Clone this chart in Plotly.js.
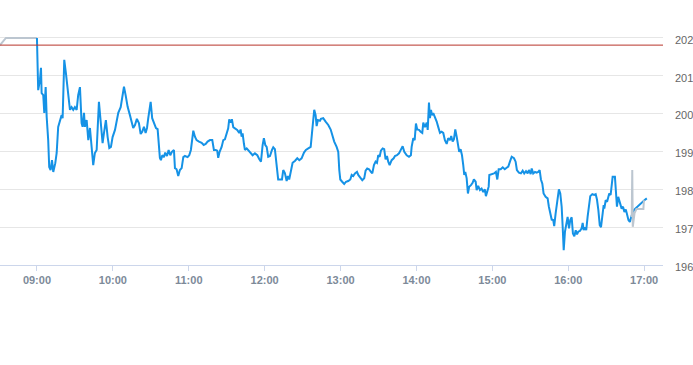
<!DOCTYPE html>
<html>
<head>
<meta charset="utf-8">
<script src="https://cdn.plot.ly/plotly-3.0.1.min.js"></script>
<style>html,body{margin:0;padding:0;background:#fff;}#chart{width:693px;height:365px;}</style>
</head>
<body>
<div id="chart"></div>
<script>
// Minutes after 09:00 for each regular-session point
const sessionMinutes = [0,0.2,1.0,2.4,3.2,3.7,5.0,5.8,6.9,7.7,8.9,9.7,10.8,11.9,12.9,14.5,15.6,16.8,18.2,19.5,20.3,21.6,22.9,24.7,26.1,27.4,28.7,30.0,31.4,32.6,34.0,35.3,36.1,37.2,37.9,39.3,40.6,41.9,43.2,44.5,45.8,47.2,49.0,50.6,51.9,53.0,54.5,55.9,57.2,58.5,59.8,61.7,63.0,64.3,66.2,67.7,68.8,70.1,
71.7,73.5,74.9,76.1,77.5,79.0,80.6,82.0,83.2,84.6,85.9,87.0,88.0,89.1,89.9,91.1,92.7,94.1,95.4,96.4,97.2,98.0,99.1,100.4,101.4,102.8,104.1,105.4,106.7,108.3,109.1,110.4,111.7,113.0,114.4,115.7,117.0,119.1,120.4,121.7,123.6,124.9,126.2,128.1,130.2,131.8,133.4,134.9,136.8,138.6,139.9,141.3,142.5,143.3,144.4,146.0,147.3,148.6,
150.0,151.2,152.0,153.1,154.1,155.2,156.5,158.3,159.9,161.0,161.8,162.6,163.6,164.4,165.8,167.4,168.9,170.5,172.3,174.2,175.7,177.1,178.4,179.4,180.5,181.6,182.8,184.2,185.8,186.8,188.1,189.5,190.7,192.1,193.7,194.7,196.0,197.4,198.4,199.4,200.6,202.1,203.9,205.8,207.4,209.2,211.1,212.6,214.5,216.4,217.4,218.4,219.2,220.3,221.1,222.1,223.7,
224.5,226.3,228.2,230.3,232.2,233.4,235.0,236.9,238.2,239.0,239.8,241.3,242.9,244.3,246.1,247.7,248.8,250.0,251.4,253.0,254.0,255.6,257.2,258.7,259.8,261.1,262.5,264.0,265.1,266.4,267.7,268.8,269.8,270.9,271.9,273.3,274.5,275.6,276.7,277.7,278.8,280.4,282.0,283.0,284.6,286.2,287.7,289.1,290.4,292.3,294.1,295.6,
296.2,297.5,298.6,299.6,300.6,302.0,303.3,304.6,305.4,306.7,308.1,308.9,309.9,310.7,311.5,312.3,313.3,314.6,316.0,317.2,318.6,319.9,321.2,322.5,323.9,325.1,326.5,327.5,328.6,329.6,330.7,331.8,332.8,333.8,334.9,336.0,337.0,337.8,338.6,339.7,340.7,341.7,343.1,344.4,345.4,346.8,347.6,348.8,350.2,351.5,352.8,354.1,354.9,356.0,357.1,357.6,359.5,361.3,362.8,363.9,365.0,366.6,368.2,369.8,
371.3,372.6,373.9,375.3,377.1,378.4,379.4,381.0,382.6,384.0,385.2,386.6,387.9,388.9,390.3,391.1,392.3,393.7,395.0,396.3,397.4,398.4,399.5,400.5,402.1,403.7,404.7,405.8,406.9,408.1,408.9,410.0,411.3,412.6,413.7,414.8,415.6,416.4,417.4,418.4,419.5,420.6,421.6,422.7,423.7,424.8,425.9,426.9,427.9,429.2,430.6,431.4,432.2,433.2,434.2,435.3,436.4,437.4,439.0,440.6,441.7,442.7,443.8,444.9,445.9,446.9,448.0,448.5,449.6,450.7,451.6,452.4,453.5,454.3,455.1,456.9,457.7,458.5,459.5,460.9,462.2,463.3,464.4,465.5,466.6,467.6,468.7,469.8,470.8,472.4,473.9,476.0,478.2,480.2,482.1];

const sessionPrices = [202.00,201.34,200.62,200.89,201.21,200.54,200.49,200.02,200.70,199.91,199.30,198.59,198.51,198.77,198.46,198.69,198.96,199.65,199.83,199.96,199.88,201.42,201.07,200.54,200.10,200.17,200.10,200.17,200.10,200.49,200.70,199.75,199.65,200.02,199.65,199.83,199.30,199.62,199.04,198.64,198.96,199.04,200.31,199.75,199.22,199.49,199.83,199.38,199.09,199.12,199.38,199.57,199.83,200.02,200.17,200.44,200.71,200.49,
200.18,199.96,199.79,199.62,199.70,199.86,199.75,199.46,199.52,199.65,199.49,199.62,199.88,200.18,200.31,199.88,199.76,199.62,199.59,199.22,198.83,198.77,198.90,198.85,198.97,198.88,199.04,198.90,198.99,199.04,198.56,198.53,198.35,198.51,198.56,198.85,198.88,198.85,198.90,199.04,199.55,199.39,199.30,199.26,199.23,199.17,199.20,199.26,199.30,199.30,199.04,199.04,199.02,198.83,198.99,199.12,199.30,199.32,
199.52,199.61,199.85,199.76,199.85,199.64,199.61,199.57,199.49,199.58,199.39,199.48,199.21,199.04,199.08,199.02,198.95,198.90,198.95,198.90,198.80,198.73,199.17,199.35,199.17,199.12,198.86,198.88,199.04,199.11,199.06,198.69,198.26,198.26,198.26,198.51,198.43,198.22,198.35,198.26,198.46,198.70,198.75,198.82,198.77,198.82,198.97,199.04,199.08,199.12,199.48,199.92,200.10,199.96,199.67,199.83,199.81,
199.86,199.88,199.79,199.70,199.58,199.43,199.26,199.12,198.99,198.51,198.26,198.20,198.14,198.20,198.22,198.26,198.38,198.35,198.42,198.46,198.38,198.31,198.24,198.29,198.49,198.55,198.53,198.46,198.42,198.64,198.73,198.70,198.90,198.86,199.02,199.08,199.06,198.79,198.88,198.73,198.64,198.77,198.82,198.88,198.90,198.95,199.04,199.14,198.99,198.90,198.86,198.90,
199.12,199.35,199.30,199.74,199.58,199.57,199.52,199.49,199.76,199.64,199.76,199.57,200.29,199.88,200.10,199.96,200.01,199.92,199.79,199.65,199.49,199.52,199.49,199.30,199.20,199.35,199.30,199.41,199.26,199.32,199.58,199.39,199.12,198.99,199.06,198.90,198.64,198.38,198.46,198.29,197.89,198.07,198.11,198.17,198.26,198.20,197.98,198.09,197.98,198.02,197.93,198.00,197.82,197.98,198.07,198.38,198.40,198.42,198.46,198.26,198.53,198.53,198.58,198.53,
198.57,198.60,198.73,198.86,198.82,198.73,198.51,198.44,198.42,198.49,198.42,198.48,198.42,198.51,198.40,198.55,198.42,198.46,198.44,198.46,198.51,198.26,198.15,197.89,197.80,197.76,197.54,197.36,197.20,197.19,197.03,197.36,197.71,198.00,197.89,197.54,197.01,196.39,196.88,197.14,197.27,196.97,197.19,197.26,196.83,196.76,196.92,196.81,196.88,196.90,196.97,197.11,196.92,196.99,196.92,197.27,197.63,197.82,197.87,197.85,197.87,197.73,197.45,197.05,197.00,197.23,197.58,197.49,197.71,197.67,197.80,197.89,197.85,198.07,198.33,198.33,197.89,197.54,197.80,197.63,197.49,197.54,197.40,197.47,197.27,197.19,197.14,197.27,197.38,197.47,197.52,197.58,197.64,197.71,197.76];

// Pre-market and post-market (grey)
const preMinutes = [-29.2, -24.5, 0];
const prePrices = [201.81, 202.00, 202.00];
const postMinutes = [470.2, 470.6, 471.0, 472.4, 473.9, 479.4, 479.8];
const postPrices = [197.27, 198.51, 197.01, 197.37, 197.48, 197.48, 197.71];

const previousClose = 201.81;
const hourTicks = [9, 10, 11, 12, 13, 14, 15, 16, 17];
const yTicks = [196, 197, 198, 199, 200, 201, 202];
const xRangeMinutes = [-29.2, 494.9];

const BASE = Date.UTC(2024, 0, 2, 9, 0, 0);
function toDate(m) {
  return new Date(BASE + Math.round(m * 60000)).toISOString().replace('T', ' ').slice(0, 19);
}
function hourDate(h) { return toDate((h - 9) * 60); }

const traces = [
  { x: preMinutes.map(toDate), y: prePrices, type: 'scatter', mode: 'lines',
    line: { color: '#bcc6d0', width: 2 }, hoverinfo: 'skip' },
  { x: sessionMinutes.map(toDate), y: sessionPrices, type: 'scatter', mode: 'lines',
    line: { color: '#1592e6', width: 2 } },
  { x: postMinutes.map(toDate), y: postPrices, type: 'scatter', mode: 'lines',
    line: { color: '#bcc6d0', width: 2 }, hoverinfo: 'skip' }
];

const layout = {
  width: 693, height: 365,
  margin: { l: 0, r: 30, t: 19, b: 100 },
  paper_bgcolor: '#ffffff', plot_bgcolor: '#ffffff',
  showlegend: false,
  font: { family: 'Liberation Sans, Arial, sans-serif' },
  xaxis: {
    type: 'date',
    range: xRangeMinutes.map(toDate),
    tickvals: hourTicks.map(hourDate),
    ticktext: hourTicks.map(h => (h < 10 ? '0' : '') + h + ':00'),
    showgrid: false, zeroline: false,
    showline: true, linecolor: '#ccd6eb', linewidth: 1,
    ticks: 'outside', ticklen: 5, tickcolor: '#ccd6eb',
    tickfont: { size: 11, color: '#7d8a99', weight: 'bold' }
  },
  yaxis: {
    side: 'right',
    range: [196, 202.5],
    tickvals: yTicks,
    ticktext: yTicks.map(String),
    showgrid: true, gridcolor: '#e6e6e6', gridwidth: 1,
    zeroline: false, showline: false, ticks: '',
    ticklabelstandoff: 11,
    ticklabelshift: 2,
    tickfont: { size: 11, color: '#666666' }
  },
  shapes: [{
    type: 'line', xref: 'paper', x0: 0, x1: 1, yref: 'y', y0: previousClose, y1: previousClose,
    line: { color: '#b8342a', width: 1 }
  }]
};

Plotly.newPlot('chart', traces, layout, { displayModeBar: false, staticPlot: true });
</script>
</body>
</html>
